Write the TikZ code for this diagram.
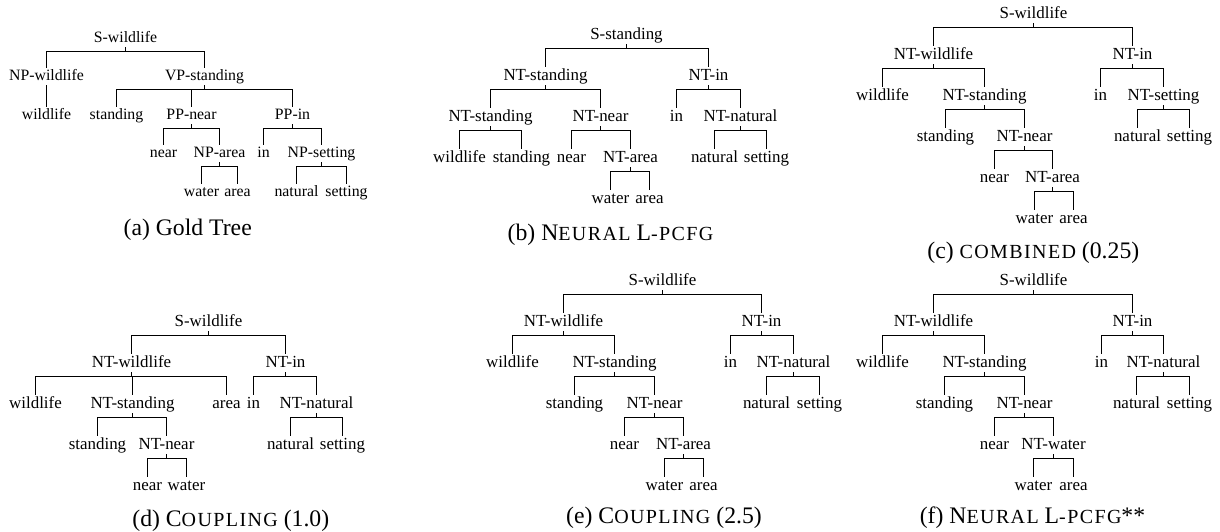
\documentclass[tikz,border=0pt]{standalone}
\usepackage{fontspec}
\setmainfont{Liberation Serif}
\newfontfamily\scfamily[LetterSpace=7]{Liberation Serif}
\newcommand{\goldsize}{\fontsize{7.9pt}{9pt}\selectfont}
\newcommand{\treesize}{\fontsize{8.46pt}{10pt}\selectfont}
\newcommand{\capsize}{\fontsize{11.85pt}{14pt}\selectfont}
\newcommand{\fakesc}[1]{{\scfamily\fontsize{10pt}{11pt}\selectfont #1}}
\tikzset{
  word/.style={anchor=base, inner xsep=0pt, inner ysep=0.5pt, font=\treesize,
    text height=5.6pt, text depth=1.9pt},
  goldword/.style={word, font=\goldsize, text height=5.2pt},
  subcap/.style={anchor=base, inner sep=0pt, font=\capsize},
  fork/.style={to path={-- ++(0,3.7) -| (\tikztotarget)}},
}

\begin{document}
\begin{tikzpicture}[x=0.5pt, y=-0.5pt, line width=0.5pt]
  \useasboundingbox (0,0) rectangle (1220,531);

  % (a) GOLD TREE
  \node[goldword] (a-s)   at (125.5,42)  {S-wildlife};
  \node[goldword] (a-np)  at (46.5,80)   {NP-wildlife};
  \node[goldword] (a-vp)  at (204.5,80)  {VP-standing};
  \node[goldword] (a-w1)  at (46.5,119)  {wildlife};
  \node[goldword] (a-w2)  at (116.5,119) {standing};
  \node[goldword] (a-ppn) at (191.5,119) {PP-near};
  \node[goldword] (a-ppi) at (292.5,119) {PP-in};
  \node[goldword] (a-w3)  at (163.5,157) {near};
  \node[goldword] (a-npa) at (219.5,157) {NP-area};
  \node[goldword] (a-w4)  at (263.5,157) {in};
  \node[goldword] (a-nps) at (321.5,157) {NP-setting};
  \node[goldword] (a-w5)  at (201.5,196) {water};
  \node[goldword] (a-w6)  at (237.5,196) {area};
  \node[goldword] (a-w7)  at (296.5,196) {natural};
  \node[goldword] (a-w8)  at (346.5,196) {setting};
  \draw (a-s.south) to[fork] (a-np.north) (a-s.south) to[fork] (a-vp.north);
  \draw (a-np.south) -- (a-w1.north);
  \draw (a-vp.south) to[fork] (a-w2.north) (a-vp.south) to[fork] (a-ppn.north)
        (a-vp.south) to[fork] (a-ppi.north);
  \draw (a-ppn.south) to[fork] (a-w3.north) (a-ppn.south) to[fork] (a-npa.north);
  \draw (a-ppi.south) to[fork] (a-w4.north) (a-ppi.south) to[fork] (a-nps.north);
  \draw (a-npa.south) to[fork] (a-w5.north) (a-npa.south) to[fork] (a-w6.north);
  \draw (a-nps.south) to[fork] (a-w7.north) (a-nps.south) to[fork] (a-w8.north);
  \node[subcap] (a-cap) at (187.7,235) {(a) Gold Tree};

  % (b) NEURAL L-PCFG
  \node[word] (b-s)    at (626.5,39)  {S-standing};
  \node[word] (b-nts)  at (545.5,80)  {NT-standing};
  \node[word] (b-nti)  at (708.5,80)  {NT-in};
  \node[word] (b-nts2) at (490.5,121) {NT-standing};
  \node[word] (b-ntn)  at (600.5,121) {NT-near};
  \node[word] (b-w5)   at (676.5,121) {in};
  \node[word] (b-ntl)  at (740.5,121) {NT-natural};
  \node[word] (b-w1)   at (459.5,162) {wildlife};
  \node[word] (b-w2)   at (521.5,162) {standing};
  \node[word] (b-w3)   at (571.5,162) {near};
  \node[word] (b-nta)  at (630.5,162) {NT-area};
  \node[word] (b-w6)   at (714.5,162) {natural};
  \node[word] (b-w7)   at (766.5,162) {setting};
  \node[word] (b-w4)   at (610.5,203) {water};
  \node[word] (b-w8)   at (649.5,203) {area};
  \draw (b-s.south) to[fork] (b-nts.north) (b-s.south) to[fork] (b-nti.north);
  \draw (b-nts.south) to[fork] (b-nts2.north) (b-nts.south) to[fork] (b-ntn.north);
  \draw (b-nti.south) to[fork] (b-w5.north) (b-nti.south) to[fork] (b-ntl.north);
  \draw (b-nts2.south) to[fork] (b-w1.north) (b-nts2.south) to[fork] (b-w2.north);
  \draw (b-ntn.south) to[fork] (b-w3.north) (b-ntn.south) to[fork] (b-nta.north);
  \draw (b-ntl.south) to[fork] (b-w6.north) (b-ntl.south) to[fork] (b-w7.north);
  \draw (b-nta.south) to[fork] (b-w4.north) (b-nta.south) to[fork] (b-w8.north);
  \node[subcap] (b-cap) at (610.5,240) {(b) N\fakesc{EURAL} L\fakesc{-PCFG}};

  % (c) COMBINED (0.25)
  \node[word] (c-s)    at (1033.5,18)  {S-wildlife};
  \node[word] (c-ntw)  at (933.5,59)   {NT-wildlife};
  \node[word] (c-nti)  at (1132.5,59)  {NT-in};
  \node[word] (c-w1)   at (882.5,100)  {wildlife};
  \node[word] (c-nts)  at (984.5,100)  {NT-standing};
  \node[word] (c-w5)   at (1100.5,100) {in};
  \node[word] (c-ntg)  at (1163.5,100) {NT-setting};
  \node[word] (c-w2)   at (945.5,141)  {standing};
  \node[word] (c-ntn)  at (1024.5,141) {NT-near};
  \node[word] (c-w6)   at (1137.5,141) {natural};
  \node[word] (c-w7)   at (1189.5,141) {setting};
  \node[word] (c-w3)   at (994.5,182)  {near};
  \node[word] (c-nta)  at (1052.5,182) {NT-area};
  \node[word] (c-w4)   at (1034.5,223) {water};
  \node[word] (c-w8)   at (1073.5,223) {area};
  \draw (c-s.south) to[fork] (c-ntw.north) (c-s.south) to[fork] (c-nti.north);
  \draw (c-ntw.south) to[fork] (c-w1.north) (c-ntw.south) to[fork] (c-nts.north);
  \draw (c-nti.south) to[fork] (c-w5.north) (c-nti.south) to[fork] (c-ntg.north);
  \draw (c-nts.south) to[fork] (c-w2.north) (c-nts.south) to[fork] (c-ntn.north);
  \draw (c-ntg.south) to[fork] (c-w6.north) (c-ntg.south) to[fork] (c-w7.north);
  \draw (c-ntn.south) to[fork] (c-w3.north) (c-ntn.south) to[fork] (c-nta.north);
  \draw (c-nta.south) to[fork] (c-w4.north) (c-nta.south) to[fork] (c-w8.north);
  \node[subcap] (c-cap) at (1033.3,258.3) {(c) \fakesc{COMBINED} (0.25)};

  % (d) COUPLING (1.0)
  \node[word] (d-s)    at (208.5,326) {S-wildlife};
  \node[word] (d-ntw)  at (131.5,367) {NT-wildlife};
  \node[word] (d-nti)  at (285.5,367) {NT-in};
  \node[word] (d-w1)   at (35.5,408)  {wildlife};
  \node[word] (d-nts)  at (132.5,408) {NT-standing};
  \node[word] (d-w5)   at (226.5,408) {area};
  \node[word] (d-w6)   at (253.5,408) {in};
  \node[word] (d-ntl)  at (316.5,408) {NT-natural};
  \node[word] (d-w2)   at (97.5,449)  {standing};
  \node[word] (d-ntn)  at (166.5,449) {NT-near};
  \node[word] (d-w7)   at (290.5,449) {natural};
  \node[word] (d-w8)   at (342.5,449) {setting};
  \node[word] (d-w3)   at (147.5,490) {near};
  \node[word] (d-w4)   at (186.5,490) {water};
  \draw (d-s.south) to[fork] (d-ntw.north) (d-s.south) to[fork] (d-nti.north);
  \draw (d-ntw.south) to[fork] (d-w1.north) (d-ntw.south) to[fork] (d-nts.north)
        (d-ntw.south) to[fork] (d-w5.north);
  \draw (d-nti.south) to[fork] (d-w6.north) (d-nti.south) to[fork] (d-ntl.north);
  \draw (d-nts.south) to[fork] (d-w2.north) (d-nts.south) to[fork] (d-ntn.north);
  \draw (d-ntl.south) to[fork] (d-w7.north) (d-ntl.south) to[fork] (d-w8.north);
  \draw (d-ntn.south) to[fork] (d-w3.north) (d-ntn.south) to[fork] (d-w4.north);
  \node[subcap] (d-cap) at (230.8,526.7) {(d) C\fakesc{OUPLING} (1.0)};

  % (e) COUPLING (2.5)
  \node[word] (e-s)    at (662.5,285) {S-wildlife};
  \node[word] (e-ntw)  at (563.5,326) {NT-wildlife};
  \node[word] (e-nti)  at (761.5,326) {NT-in};
  \node[word] (e-w1)   at (512.5,367) {wildlife};
  \node[word] (e-nts)  at (614.5,367) {NT-standing};
  \node[word] (e-w5)   at (730.5,367) {in};
  \node[word] (e-ntl)  at (793.5,367) {NT-natural};
  \node[word] (e-w2)   at (574.5,408) {standing};
  \node[word] (e-ntn)  at (654.5,408) {NT-near};
  \node[word] (e-w6)   at (766.5,408) {natural};
  \node[word] (e-w7)   at (819.5,408) {setting};
  \node[word] (e-w3)   at (624.5,449) {near};
  \node[word] (e-nta)  at (683.5,449) {NT-area};
  \node[word] (e-w4)   at (664.5,490) {water};
  \node[word] (e-w8)   at (703.5,490) {area};
  \draw (e-s.south) to[fork] (e-ntw.north) (e-s.south) to[fork] (e-nti.north);
  \draw (e-ntw.south) to[fork] (e-w1.north) (e-ntw.south) to[fork] (e-nts.north);
  \draw (e-nti.south) to[fork] (e-w5.north) (e-nti.south) to[fork] (e-ntl.north);
  \draw (e-nts.south) to[fork] (e-w2.north) (e-nts.south) to[fork] (e-ntn.north);
  \draw (e-ntl.south) to[fork] (e-w6.north) (e-ntl.south) to[fork] (e-w7.north);
  \draw (e-ntn.south) to[fork] (e-w3.north) (e-ntn.south) to[fork] (e-nta.north);
  \draw (e-nta.south) to[fork] (e-w4.north) (e-nta.south) to[fork] (e-w8.north);
  \node[subcap] (e-cap) at (664,523.3) {(e) C\fakesc{OUPLING} (2.5)};

  % (f) NEURAL L-PCFG**
  \node[word] (f-s)    at (1033.5,285) {S-wildlife};
  \node[word] (f-ntw)  at (933.5,326)  {NT-wildlife};
  \node[word] (f-nti)  at (1132.5,326) {NT-in};
  \node[word] (f-w1)   at (882.5,367)  {wildlife};
  \node[word] (f-nts)  at (984.5,367)  {NT-standing};
  \node[word] (f-w5)   at (1101.5,367) {in};
  \node[word] (f-ntl)  at (1163.5,367) {NT-natural};
  \node[word] (f-w2)   at (944.5,408)  {standing};
  \node[word] (f-ntn)  at (1024.5,408) {NT-near};
  \node[word] (f-w6)   at (1136.5,408) {natural};
  \node[word] (f-w7)   at (1189.5,408) {setting};
  \node[word] (f-w3)   at (994.5,449)  {near};
  \node[word] (f-ntr)  at (1053.5,449) {NT-water};
  \node[word] (f-w4)   at (1033.5,490) {water};
  \node[word] (f-w8)   at (1073.5,490) {area};
  \draw (f-s.south) to[fork] (f-ntw.north) (f-s.south) to[fork] (f-nti.north);
  \draw (f-ntw.south) to[fork] (f-w1.north) (f-ntw.south) to[fork] (f-nts.north);
  \draw (f-nti.south) to[fork] (f-w5.north) (f-nti.south) to[fork] (f-ntl.north);
  \draw (f-nts.south) to[fork] (f-w2.north) (f-nts.south) to[fork] (f-ntn.north);
  \draw (f-ntl.south) to[fork] (f-w6.north) (f-ntl.south) to[fork] (f-w7.north);
  \draw (f-ntn.south) to[fork] (f-w3.north) (f-ntn.south) to[fork] (f-ntr.north);
  \draw (f-ntr.south) to[fork] (f-w4.north) (f-ntr.south) to[fork] (f-w8.north);
  \node[subcap] (f-cap) at (1032.5,523.3) {(f) N\fakesc{EURAL} L\fakesc{-PCFG}**};
\end{tikzpicture}
\end{document}
